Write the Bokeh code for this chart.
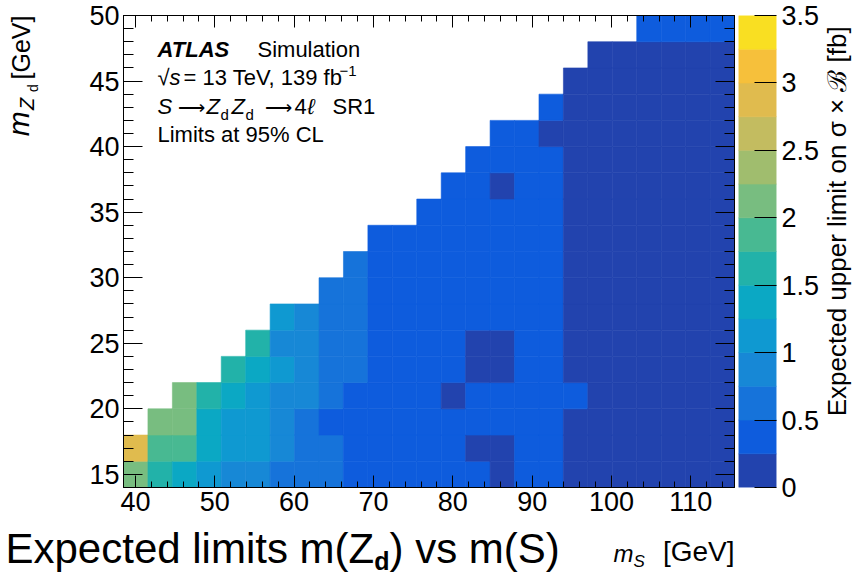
import math
from bokeh.plotting import figure
from bokeh.layouts import row, column
from bokeh.models import (LinearColorMapper, FixedTicker, SingleIntervalTicker, LinearAxis, Label,
                          Range1d, ColumnDataSource, CustomJSTickFormatter, CustomLabelingPolicy)
from bokeh.embed import file_html
from bokeh.resources import INLINE

# ---------------- data ----------------
ms_centers = [40.04, 43.12, 46.20, 49.28, 52.36, 55.44, 58.52, 61.60, 64.68, 67.76,
              70.84, 73.92, 77.00, 80.08, 83.16, 86.24, 89.32, 92.40, 95.48, 98.56,
              101.64, 104.72, 107.80, 110.88, 113.96]
ms_bin_width = 3.08
mzd_centers = [15, 17, 19, 21, 23, 25, 27, 29, 31, 33, 35, 37, 39, 41, 43, 45, 47, 49]
mzd_bin_width = 2.0

# expected limit [fb] for each m_S column, listed from the lowest m_Zd bin upwards
limits_by_ms = [
    [2.12, 2.90],
    [1.62, 1.88, 2.12],
    [1.38, 1.88, 2.12, 2.12],
    [1.12, 1.38, 1.38, 1.62],
    [0.88, 1.12, 1.12, 1.38, 1.62],
    [0.88, 1.12, 1.12, 1.12, 1.38, 1.62],
    [0.62, 0.88, 0.88, 0.88, 1.12, 0.88, 1.12],
    [0.62, 0.62, 0.62, 0.88, 0.88, 0.88, 0.88],
    [0.62, 0.62, 0.40, 0.62, 0.62, 0.62, 0.62, 0.62],
    [0.40, 0.40, 0.40, 0.40, 0.62, 0.62, 0.62, 0.62, 0.62],
    [0.40, 0.40, 0.40, 0.40, 0.40, 0.40, 0.40, 0.40, 0.40, 0.40],
    [0.40, 0.40, 0.40, 0.40, 0.40, 0.40, 0.40, 0.40, 0.40, 0.40],
    [0.40, 0.40, 0.40, 0.40, 0.40, 0.40, 0.40, 0.40, 0.40, 0.40, 0.40],
    [0.40, 0.40, 0.40, 0.15, 0.40, 0.40, 0.40, 0.40, 0.40, 0.40, 0.40, 0.40],
    [0.40, 0.15, 0.40, 0.40, 0.15, 0.15, 0.40, 0.40, 0.40, 0.40, 0.40, 0.40, 0.40],
    [0.15, 0.15, 0.40, 0.40, 0.15, 0.15, 0.40, 0.40, 0.40, 0.40, 0.40, 0.15, 0.40, 0.40],
    [0.40, 0.40, 0.40, 0.40, 0.40, 0.40, 0.40, 0.40, 0.40, 0.40, 0.40, 0.40, 0.40, 0.40],
    [0.40, 0.40, 0.40, 0.40, 0.40, 0.40, 0.40, 0.40, 0.40, 0.40, 0.40, 0.40, 0.40, 0.15, 0.40],
    [0.15, 0.15, 0.15, 0.40, 0.15, 0.15, 0.15, 0.15, 0.15, 0.15, 0.15, 0.15, 0.15, 0.15, 0.15, 0.15],
    [0.15] * 17,
    [0.15] * 17,
    [0.15] * 17 + [0.40],
    [0.15] * 17 + [0.40],
    [0.15] * 17 + [0.40],
    [0.15] * 17 + [0.40],
]

x_tick_interval = 10
y_tick_interval = 5
cb_ticks = [0, 0.5, 1, 1.5, 2, 2.5, 3, 3.5]
cb_tick_labels = ["0", "0.5", "1", "1.5", "2", "2.5", "3", "3.5"]
cb_low, cb_high = 0.0, 3.5
palette = ["#2243AE", "#0E5CDD", "#1673DA", "#1788D6", "#0F99D1", "#0BA8C4", "#22B2A9",
           "#48B992", "#78BD80", "#A0BD6E", "#C3BC60", "#E0BB4E", "#F6C03B", "#F9DF22"]

X0, X1 = 38.5, 115.5
Y0, Y1 = 14.0, 50.0

# ---------------- layout (page pixels) ----------------
FONT = "Liberation Sans"
TOP_H = 524          # height of the upper row
CAP_H = 54           # caption strip
YT_W = 45            # y-title strip
P_L, P_R = 45, 738   # main figure span
F_L, F_R, F_T, F_B = 123, 734, 15, 487   # frame
CB_L, CB_R = 738, 822  # colour-bar figure span (bar 738-777)
CT_L, CT_R = 822, 854  # colour-bar title strip
BASE_SHIFT = 0.42    # label anchor sits this many em above the glyph baseline

REG = {' ': 278, '!': 278, '%': 889, '(': 333, ')': 333, ',': 278, '-': 333, '.': 278, '=': 584,
       '[': 278, ']': 278, '√': 549, '−': 584, 'ℓ': 417,
       'A': 667, 'B': 667, 'C': 722, 'D': 722, 'E': 667, 'F': 611, 'G': 778, 'H': 722, 'I': 278,
       'L': 556, 'M': 833, 'N': 722, 'O': 778, 'P': 667, 'R': 722, 'S': 667, 'T': 611, 'V': 667,
       'Z': 611, 'a': 556, 'b': 556, 'c': 500, 'd': 556, 'e': 556, 'f': 278, 'g': 556, 'h': 556,
       'i': 222, 'l': 222, 'm': 833, 'n': 556, 'o': 556, 'p': 556, 'r': 333, 's': 500, 't': 278,
       'u': 556, 'v': 500, 'x': 500, 'y': 500}
BOLD = dict(REG)
BOLD.update({'A': 722, 'T': 611, 'L': 611, 'S': 667, 'd': 611})

def tw(text, size, style):
    tab = BOLD if "bold" in style else REG
    return sum(tab.get(c, 556) for c in text) * size / 1000.0

def mk_label(fig, x, y, text, size, style="normal", angle=0.0, align="left"):
    fig.add_layout(Label(x=x, y=y, text=text, text_font=FONT, text_font_size=f"{size}px",
                         text_font_style=style, text_color="black", text_align=align,
                         text_baseline="alphabetic", angle=angle))

def text_fig(w, h):
    f = figure(width=w, height=h, x_range=Range1d(0, w), y_range=Range1d(0, h),
               output_backend="svg", toolbar_location=None, min_border=0,
               x_axis_location=None, y_axis_location=None)
    f.grid.visible = False
    f.outline_line_color = None
    f.background_fill_color = "white"
    f.border_fill_color = "white"
    return f

no_labels = CustomLabelingPolicy(code="return new Set()")

# ---------------- main heat-map ----------------
xs, ys, vals = [], [], []
for i, col in enumerate(limits_by_ms):
    for j, v in enumerate(col):
        xs.append(ms_centers[i])
        ys.append(mzd_centers[j])
        vals.append(v)
src = ColumnDataSource(dict(x=xs, y=ys, val=vals))
mapper = LinearColorMapper(palette=palette, low=cb_low, high=cb_high)

p = figure(width=P_R - P_L, height=TOP_H, x_range=Range1d(X0, X1), y_range=Range1d(Y0, Y1),
           output_backend="svg", toolbar_location=None,
           min_border_left=F_L - P_L, min_border_right=P_R - F_R,
           min_border_top=F_T, min_border_bottom=TOP_H - F_B)
p.grid.visible = False
p.outline_line_color = "black"
p.background_fill_color = "white"
p.border_fill_color = "white"

p.rect(x="x", y="y", width=ms_bin_width, height=mzd_bin_width, source=src,
       fill_color={"field": "val", "transform": mapper},
       line_color={"field": "val", "transform": mapper}, line_width=0.6)

xt = SingleIntervalTicker(interval=x_tick_interval, num_minor_ticks=5)
yt = SingleIntervalTicker(interval=y_tick_interval, num_minor_ticks=5)

def style_axis(ax, tick_in, minor_in, labels=True, standoff=5, size="27px"):
    ax.major_tick_in = tick_in
    ax.major_tick_out = 0
    ax.minor_tick_in = minor_in
    ax.minor_tick_out = 0
    ax.axis_line_color = "black"
    ax.major_tick_line_color = "black"
    ax.minor_tick_line_color = "black"
    ax.major_label_text_font = FONT
    ax.major_label_text_color = "black"
    ax.major_label_standoff = standoff
    if labels:
        ax.major_label_text_font_size = size
    else:
        ax.major_label_text_font_size = "0px"
        ax.major_label_policy = no_labels

p.xaxis.ticker = xt
p.yaxis.ticker = yt
style_axis(p.xaxis[0], 12, 6, True, 4)
style_axis(p.yaxis[0], 19, 10, True, 4)
top_ax = LinearAxis(ticker=xt)
style_axis(top_ax, 12, 6, False, 0)
p.add_layout(top_ax, "above")
right_ax = LinearAxis(ticker=yt)
style_axis(right_ax, 19, 10, False, 0)
p.add_layout(right_ax, "right")

def pdx(px):
    return X0 + (px - F_L) * (X1 - X0) / (F_R - F_L)

def pdy(py):
    return Y1 - (py - F_T) * (Y1 - Y0) / (F_B - F_T)

def ptext(text, px, base_y, size, style="normal"):
    mk_label(p, pdx(px), pdy(base_y - BASE_SHIFT * size), text, size, style)

TS = 22
ptext("ATLAS", 157, 58, TS, "bold italic")
ptext("Simulation", 257, 58, TS)
ptext("√", 157, 86, TS)
ptext("s", 169, 86, TS, "italic")
ptext("= 13 TeV, 139 fb", 183, 86, TS)
ptext("−1", 339, 77, 15)
ptext("S", 157, 115, TS, "italic")
ptext("⟶", 177, 115, 19)
ptext("Z", 206, 115, TS, "italic")
ptext("d", 220, 120, 15)
ptext("Z", 231, 115, TS, "italic")
ptext("d", 245, 120, 15)
ptext("⟶", 264, 115, 19)
ptext("4", 294, 115, TS)
ptext("ℓ", 307, 115, TS, "italic")
ptext("SR1", 332, 115, TS)
ptext("Limits at 95% CL", 157, 143, TS)

# ---------------- colour bar as its own figure ----------------
n_lev = len(palette)
step = (cb_high - cb_low) / n_lev
cb_src = ColumnDataSource(dict(bottom=[cb_low + k * step for k in range(n_lev)],
                               top=[cb_low + (k + 1) * step for k in range(n_lev)],
                               color=palette))
fcb = figure(width=CB_R - CB_L, height=TOP_H, x_range=Range1d(0, 1), y_range=Range1d(cb_low, cb_high),
             output_backend="svg", toolbar_location=None, x_axis_location=None,
             y_axis_location="right", min_border_left=0, min_border_right=CB_R - CB_L - 39,
             min_border_top=F_T, min_border_bottom=TOP_H - F_B)
fcb.grid.visible = False
fcb.outline_line_color = None
fcb.background_fill_color = "white"
fcb.border_fill_color = "white"
fcb.quad(left=0, right=1, bottom="bottom", top="top", color="color", source=cb_src, line_width=0.6)
cb_ax = fcb.yaxis[0]
cb_ax.ticker = FixedTicker(ticks=cb_ticks)
cb_ax.formatter = CustomJSTickFormatter(
    args=dict(tk=cb_ticks, lb=cb_tick_labels),
    code="const i = tk.findIndex(t => Math.abs(t - tick) < 1e-9); return i >= 0 ? lb[i] : '';")
cb_ax.major_tick_in = 22
cb_ax.major_tick_out = 0
cb_ax.minor_tick_line_color = None
cb_ax.axis_line_color = None
cb_ax.major_tick_line_color = "black"
cb_ax.major_label_text_font = FONT
cb_ax.major_label_text_font_size = "27px"
cb_ax.major_label_text_color = "black"
cb_ax.major_label_standoff = 5

# ---------------- y-axis title strip (rotated, reads upwards) ----------------
fy = text_fig(YT_W, TOP_H)
def ytext(text, base_x, start_y, size, style="normal"):
    mk_label(fy, base_x - BASE_SHIFT * size, TOP_H - start_y, text, size, style, math.pi / 2)
ytext("m", 31, 134, 30, "italic")
ytext("Z", 35, 105, 20, "italic")
ytext("d", 38, 85, 14)
ytext("[GeV]", 31, 71, 25)

# ---------------- colour-bar title strip (top aligned) ----------------
fct = text_fig(CT_R - CT_L, TOP_H)
CBS = 26
mk_label(fct, 847 - CT_L - BASE_SHIFT * CBS, TOP_H - 12, "Expected upper limit on σ × ℬ [fb]",
         CBS, "normal", math.pi / 2, align="right")

# ---------------- caption strip (caption + x-axis title) ----------------
fcap = text_fig(CT_R, CAP_H)
def ctext(text, px, base_y, size, style="normal"):
    mk_label(fcap, px, TOP_H + CAP_H - (base_y - BASE_SHIFT * size), text, size, style)
CS = 42
ctext("Expected limits m(Z", 5, 566, CS)
cx = 5 + tw("Expected limits m(Z", CS, "normal")
ctext("d", cx, 571, 25, "bold")
cx += tw("d", 25, "bold")
ctext(") vs m(S)", cx, 566, CS)

ctext("m", 613, 563, 24, "italic")
ctext("S", 633, 568, 17, "italic")
ctext("[GeV]", F_R - tw("[GeV]", 28, "normal"), 563, 28)

layout = column(row(fy, p, fcb, fct), fcap)
open("out.html", "w").write(file_html(layout, INLINE))
